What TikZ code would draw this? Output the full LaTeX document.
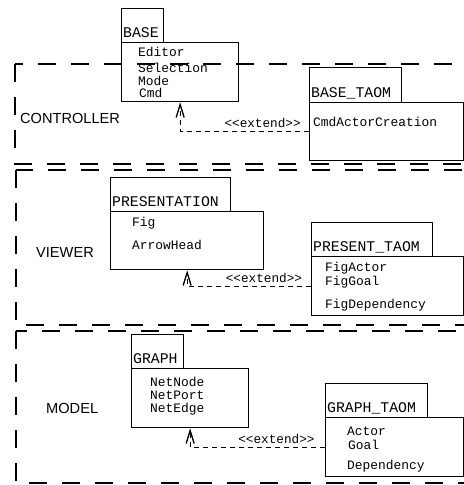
\documentclass[tikz,border=0pt]{standalone}
\usepackage{fontspec}
\setsansfont{Liberation Sans}
\setmonofont{Liberation Mono}
\usetikzlibrary{arrows.meta}

\begin{document}
\begin{tikzpicture}[x=1bp,y=-1bp,line cap=butt,
  layer/.style={dash pattern=on 18bp off 15bp,line width=1.4bp},
  layername/.style={anchor=west,inner sep=0pt,font=\sffamily\fontsize{14.6bp}{16bp}\selectfont},
  pkgbox/.style={draw,line width=1.3bp,anchor=north west,inner sep=0pt},
  pkgname/.style={anchor=base west,inner sep=0pt,xshift=2bp,yshift=5.5bp,
    font=\ttfamily\fontsize{14.8bp}{16bp}\selectfont},
  item/.style={anchor=west,inner sep=0pt,text height=7bp,text depth=1.5bp,yshift=-1bp,
    font=\ttfamily\fontsize{12.9bp}{14bp}\selectfont},
  extend/.style={dash pattern=on 5bp off 4bp,line width=1.2bp,
    -{Straight Barb[length=13bp,width=8bp,line width=1.3bp]}},
  stereo/.style={inner sep=0pt,font=\ttfamily\fontsize{12.7bp}{14bp}\selectfont}]
\useasboundingbox (0,0) rectangle (464,485);
\draw[layer] (15,64) rectangle (480,164);
\draw[layer] (16,170) rectangle (480,325);
\draw[layer] (16,331) rectangle (480,483);
\node[layername] (controller) at (20,118) {CONTROLLER};
\node[layername] (viewer) at (36,252) {VIEWER};
\node[layername] (model) at (46,408) {MODEL};
\node[pkgbox,minimum width=42bp,minimum height=34bp] (basetab) at (121,8) {};
\node[pkgbox,minimum width=117bp,minimum height=59bp] (basebody) at (121,42) {};
\node[pkgname] (basename) at (basetab.south west) {BASE};
\node[item] (editor) at (138,53) {Editor};
\node[item] (selection) at (138,68.5) {Selection};
\node[item] (mode) at (138,81.5) {Mode};
\node[item] (cmd) at (139,93.5) {Cmd};
\node[pkgbox,minimum width=92bp,minimum height=35bp] (basetaomtab) at (309,67) {};
\node[pkgbox,minimum width=154bp,minimum height=58bp] (basetaombody) at (309,102) {};
\node[pkgname] (basetaomname) at (basetaomtab.south west) {BASE\_TAOM};
\node[item] (cmdactor) at (313,123) {CmdActorCreation};
\draw[extend] (basetaombody.west) -| node[stereo,pos=0.18,above=3bp] (ext1) {<<extend>>} (basebody.south);
\node[pkgbox,minimum width=120bp,minimum height=34bp] (prestab) at (110,177) {};
\node[pkgbox,minimum width=153bp,minimum height=58bp] (presbody) at (110,211) {};
\node[pkgname] (presname) at (prestab.south west) {PRESENTATION};
\node[item] (fig) at (132,223) {Fig};
\node[item] (arrowhead) at (132,246) {ArrowHead};
\node[pkgbox,minimum width=121bp,minimum height=34bp] (prestaomtab) at (311,222) {};
\node[pkgbox,minimum width=152bp,minimum height=59bp] (prestaombody) at (311,256) {};
\node[pkgname] (prestaomname) at (prestaomtab.south west) {PRESENT\_TAOM};
\node[item] (figactor) at (325,268) {FigActor};
\node[item] (figgoal) at (325,282) {FigGoal};
\node[item] (figdep) at (325,305) {FigDependency};
\draw[extend] (prestaombody.west) -| node[stereo,pos=0.19,above=3bp] (ext2) {<<extend>>} (presbody.south);
\node[pkgbox,minimum width=52bp,minimum height=34bp] (graphtab) at (131,334) {};
\node[pkgbox,minimum width=117bp,minimum height=59bp] (graphbody) at (131,368) {};
\node[pkgname] (graphname) at (graphtab.south west) {GRAPH};
\node[item] (netnode) at (150,383) {NetNode};
\node[item] (netport) at (150,396) {NetPort};
\node[item] (netedge) at (150,409) {NetEdge};
\node[pkgbox,minimum width=102bp,minimum height=34bp] (graphtaomtab) at (325,383) {};
\node[pkgbox,minimum width=138bp,minimum height=59bp] (graphtaombody) at (325,417) {};
\node[pkgname] (graphtaomname) at (graphtaomtab.south west) {GRAPH\_TAOM};
\node[item] (actor) at (347,432) {Actor};
\node[item] (goal) at (348,446) {Goal};
\node[item] (dependency) at (347,466) {Dependency};
\draw[extend] (graphtaombody.west) -| node[stereo,pos=0.18,above=3bp] (ext3) {<<extend>>} (graphbody.south);
\end{tikzpicture}
\end{document}
